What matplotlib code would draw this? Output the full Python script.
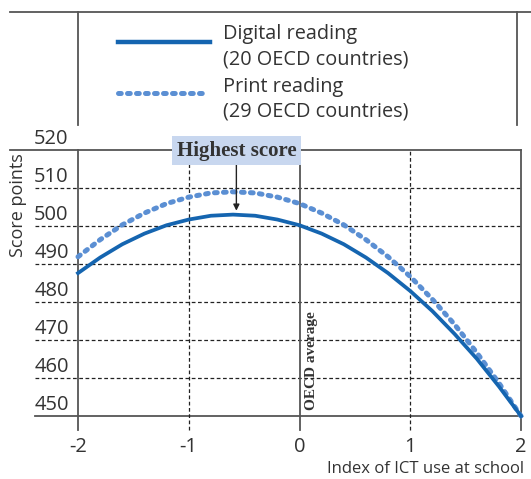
import numpy as np
import matplotlib.pyplot as plt
import matplotlib.transforms as mtransforms
from matplotlib.lines import Line2D

# values
ict_index = [-2.0, -1.8, -1.6, -1.4, -1.2, -1.0, -0.8, -0.6, -0.4, -0.2, 0.0,
             0.2, 0.4, 0.6, 0.8, 1.0, 1.2, 1.4, 1.6, 1.8, 2.0]
digital = [487.6, 491.7, 495.2, 498.0, 500.2, 501.7, 502.7, 503.0, 502.7, 501.7, 500.2,
           498.0, 495.2, 491.7, 487.6, 482.9, 477.6, 471.6, 465.1, 457.8, 450.0]
print_rd = [491.9, 496.4, 500.3, 503.4, 505.9, 507.6, 508.7, 509.0, 508.7, 507.6, 505.9,
            503.4, 500.3, 496.4, 491.9, 486.7, 480.7, 474.1, 466.7, 458.7, 450.0]
yticks = [450, 460, 470, 480, 490, 500, 510, 520]
xticks = [-2, -1, 0, 1, 2]
peak_x = -0.57
peak_digital = 503.0

plt.rcParams['font.family'] = ['Open Sans', 'DejaVu Sans']
txt = '#333333'
c_dig = '#1565b0'
c_prt = '#5b8fd3'
spine_c = '#555555'
dots = (0, (0.55, 1.25))

W, H = 531, 479
fig = plt.figure(figsize=(W / 100, H / 100), dpi=100)
ax = fig.add_axes([78 / W, 1 - 416 / H, (521 - 78) / W, (416 - 150) / H])
ax.set_xlim(-2, 2)
ax.set_ylim(450, 520)

# legend frame
fig.add_artist(Line2D([10 / W, 1], [1 - 12 / H] * 2, color=spine_c, lw=1.3))
for xp in (78, 517):
    fig.add_artist(Line2D([xp / W] * 2, [1 - 12 / H, 1 - 125 / H], color=spine_c, lw=1.3))
fig.add_artist(Line2D([118 / W, 210 / W], [1 - 42 / H] * 2, color=c_dig, lw=3.2))
fig.add_artist(Line2D([118 / W, 205 / W], [1 - 93 / H] * 2, color=c_prt, lw=3.6,
                      linestyle=dots, dash_capstyle='round'))
for yp, s in [(34, 'Digital reading'), (59, '(20 OECD countries)'),
              (87, 'Print reading'), (112, '(29 OECD countries)')]:
    fig.text(223 / W, 1 - yp / H, s, fontsize=14.3, color=txt, va='center')

# frame lines
for s in ax.spines.values():
    s.set_visible(False)
blend_y = mtransforms.blended_transform_factory(ax.transAxes, ax.transData)
blend_x = mtransforms.blended_transform_factory(ax.transData, ax.transAxes)
ax.plot([-0.154, 1], [520, 520], transform=blend_y, color=spine_c, lw=1.3, clip_on=False)
ax.plot([-0.097, 1], [450, 450], transform=blend_y, color=spine_c, lw=1.3, clip_on=False)

# horizontal grid + y labels
for v in yticks:
    if 450 < v < 520:
        ax.plot([-0.097, 1], [v, v], transform=blend_y, color='#222222', lw=0.9,
                linestyle=(0, (3, 2)), clip_on=False)
    ax.text(-0.099, v + 0.3, str(v), transform=blend_y, fontsize=14.5, color=txt,
            ha='left', va='bottom')

# vertical lines + x labels
for v in xticks:
    if v in (-1, 1):
        ax.plot([v, v], [-0.053, 1], transform=blend_x, color='#222222', lw=0.9,
                linestyle=(0, (3, 2)), clip_on=False)
    else:
        ax.plot([v, v], [-0.053, 1], transform=blend_x, color=spine_c, lw=1.3, clip_on=False)
    ax.text(v, -0.08, str(v), transform=blend_x, fontsize=14.5, color=txt,
            ha='center', va='top')
ax.set_xticks([])
ax.set_yticks([])

ax.text(1.008, -0.17, 'Index of ICT use at school', transform=ax.transAxes, fontsize=12,
        color=txt, ha='right', va='top')
fig.text(18 / W, 1 - 205 / H, 'Score points', rotation=90, fontsize=13, color=txt,
         ha='center', va='center')
ax.text(0.11, 451.5, 'OECD average', rotation=90, fontsize=11, fontweight='bold',
        family='Liberation Serif', color=txt, ha='center', va='bottom')

# curves
ax.plot(ict_index, print_rd, color=c_prt, lw=3.6, linestyle=dots,
        dash_capstyle='round', clip_on=False, zorder=3)
ax.plot(ict_index, digital, color=c_dig, lw=2.7, clip_on=False, zorder=4)

# highest score annotation
ax.annotate('', xy=(peak_x, peak_digital + 0.3), xytext=(peak_x, 517.0),
            arrowprops=dict(arrowstyle='-|>', color='#222222', lw=1, mutation_scale=9),
            zorder=5)
ax.text(peak_x, 519.8, 'Highest score', fontsize=15, fontweight='bold',
        family='Liberation Serif', color=txt, ha='center', va='center', zorder=6,
        bbox=dict(boxstyle='square,pad=0.22', fc='#c8d7ef', ec='none'))

fig.savefig('out.png', dpi=100)
